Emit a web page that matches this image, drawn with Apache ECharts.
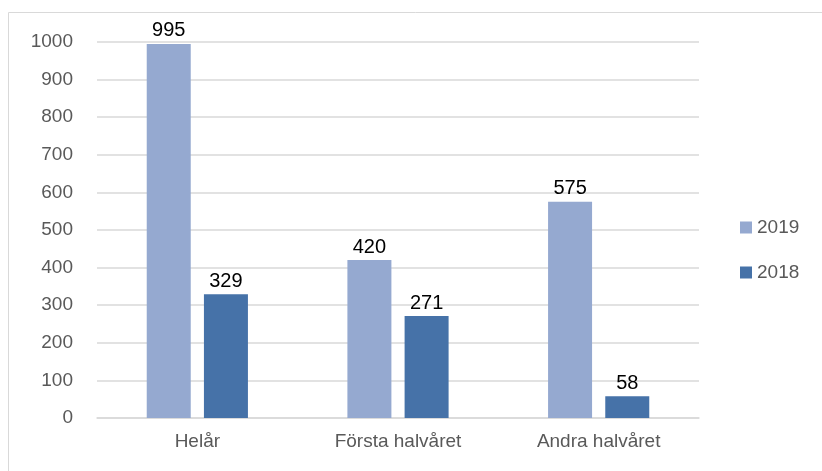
<!DOCTYPE html>
<html><head><meta charset="utf-8">
<script src="https://cdn.jsdelivr.net/npm/echarts@6/dist/echarts.min.js"></script>
<style>html,body{margin:0;padding:0;background:#fff}#c{width:822px;height:471px}</style>
</head><body><div id="c"></div>
<script>
const categories = ['Helår', 'Första halvåret', 'Andra halvåret'];
const values2019 = [995, 420, 575];
const values2018 = [329, 271, 58];
const yTicks = [0, 100, 200, 300, 400, 500, 600, 700, 800, 900, 1000];

const FONT = '"Liberation Sans", Arial, sans-serif';
const chart = echarts.init(document.getElementById('c'), null, {renderer: 'canvas'});
const lbl = {show: true, position: 'top', distance: 3, color: '#000', fontSize: 20, fontFamily: FONT};
chart.setOption({
  animation: false,
  textStyle: {fontFamily: FONT},
  graphic: [{type: 'rect', shape: {x: 8.5, y: 12.5, width: 830, height: 480}, style: {fill: 'none', stroke: '#d9d9d9', lineWidth: 1}, silent: true}],
  grid: {left: 97, right: 123, top: 42, bottom: 53, containLabel: false},
  legend: {
    orient: 'vertical', left: 735, top: 213, itemWidth: 12, itemHeight: 12, itemGap: 26,
    icon: 'rect', textStyle: {fontSize: 19, color: '#595959', fontFamily: FONT},
    data: ['2019', '2018']
  },
  xAxis: {
    type: 'category', data: categories,
    axisLine: {lineStyle: {color: '#d9d9d9', width: 1.5}}, axisTick: {show: false},
    axisLabel: {fontSize: 19, color: '#595959', margin: 14, fontFamily: FONT}
  },
  yAxis: {
    type: 'value', min: yTicks[0], max: yTicks[yTicks.length - 1], interval: 100,
    axisLine: {show: false}, axisTick: {show: false},
    axisLabel: {fontSize: 19, color: '#595959', margin: 24, fontFamily: FONT, formatter: v => String(v)},
    splitLine: {lineStyle: {color: '#d9d9d9', width: 1.5}}
  },
  series: [
    {name: '2019', type: 'bar', data: values2019, barWidth: 44, barGap: '30%', itemStyle: {color: '#95A9D0'}, label: lbl},
    {name: '2018', type: 'bar', data: values2018, barWidth: 44, itemStyle: {color: '#4672A8'}, label: lbl}
  ]
});
</script></body></html>
